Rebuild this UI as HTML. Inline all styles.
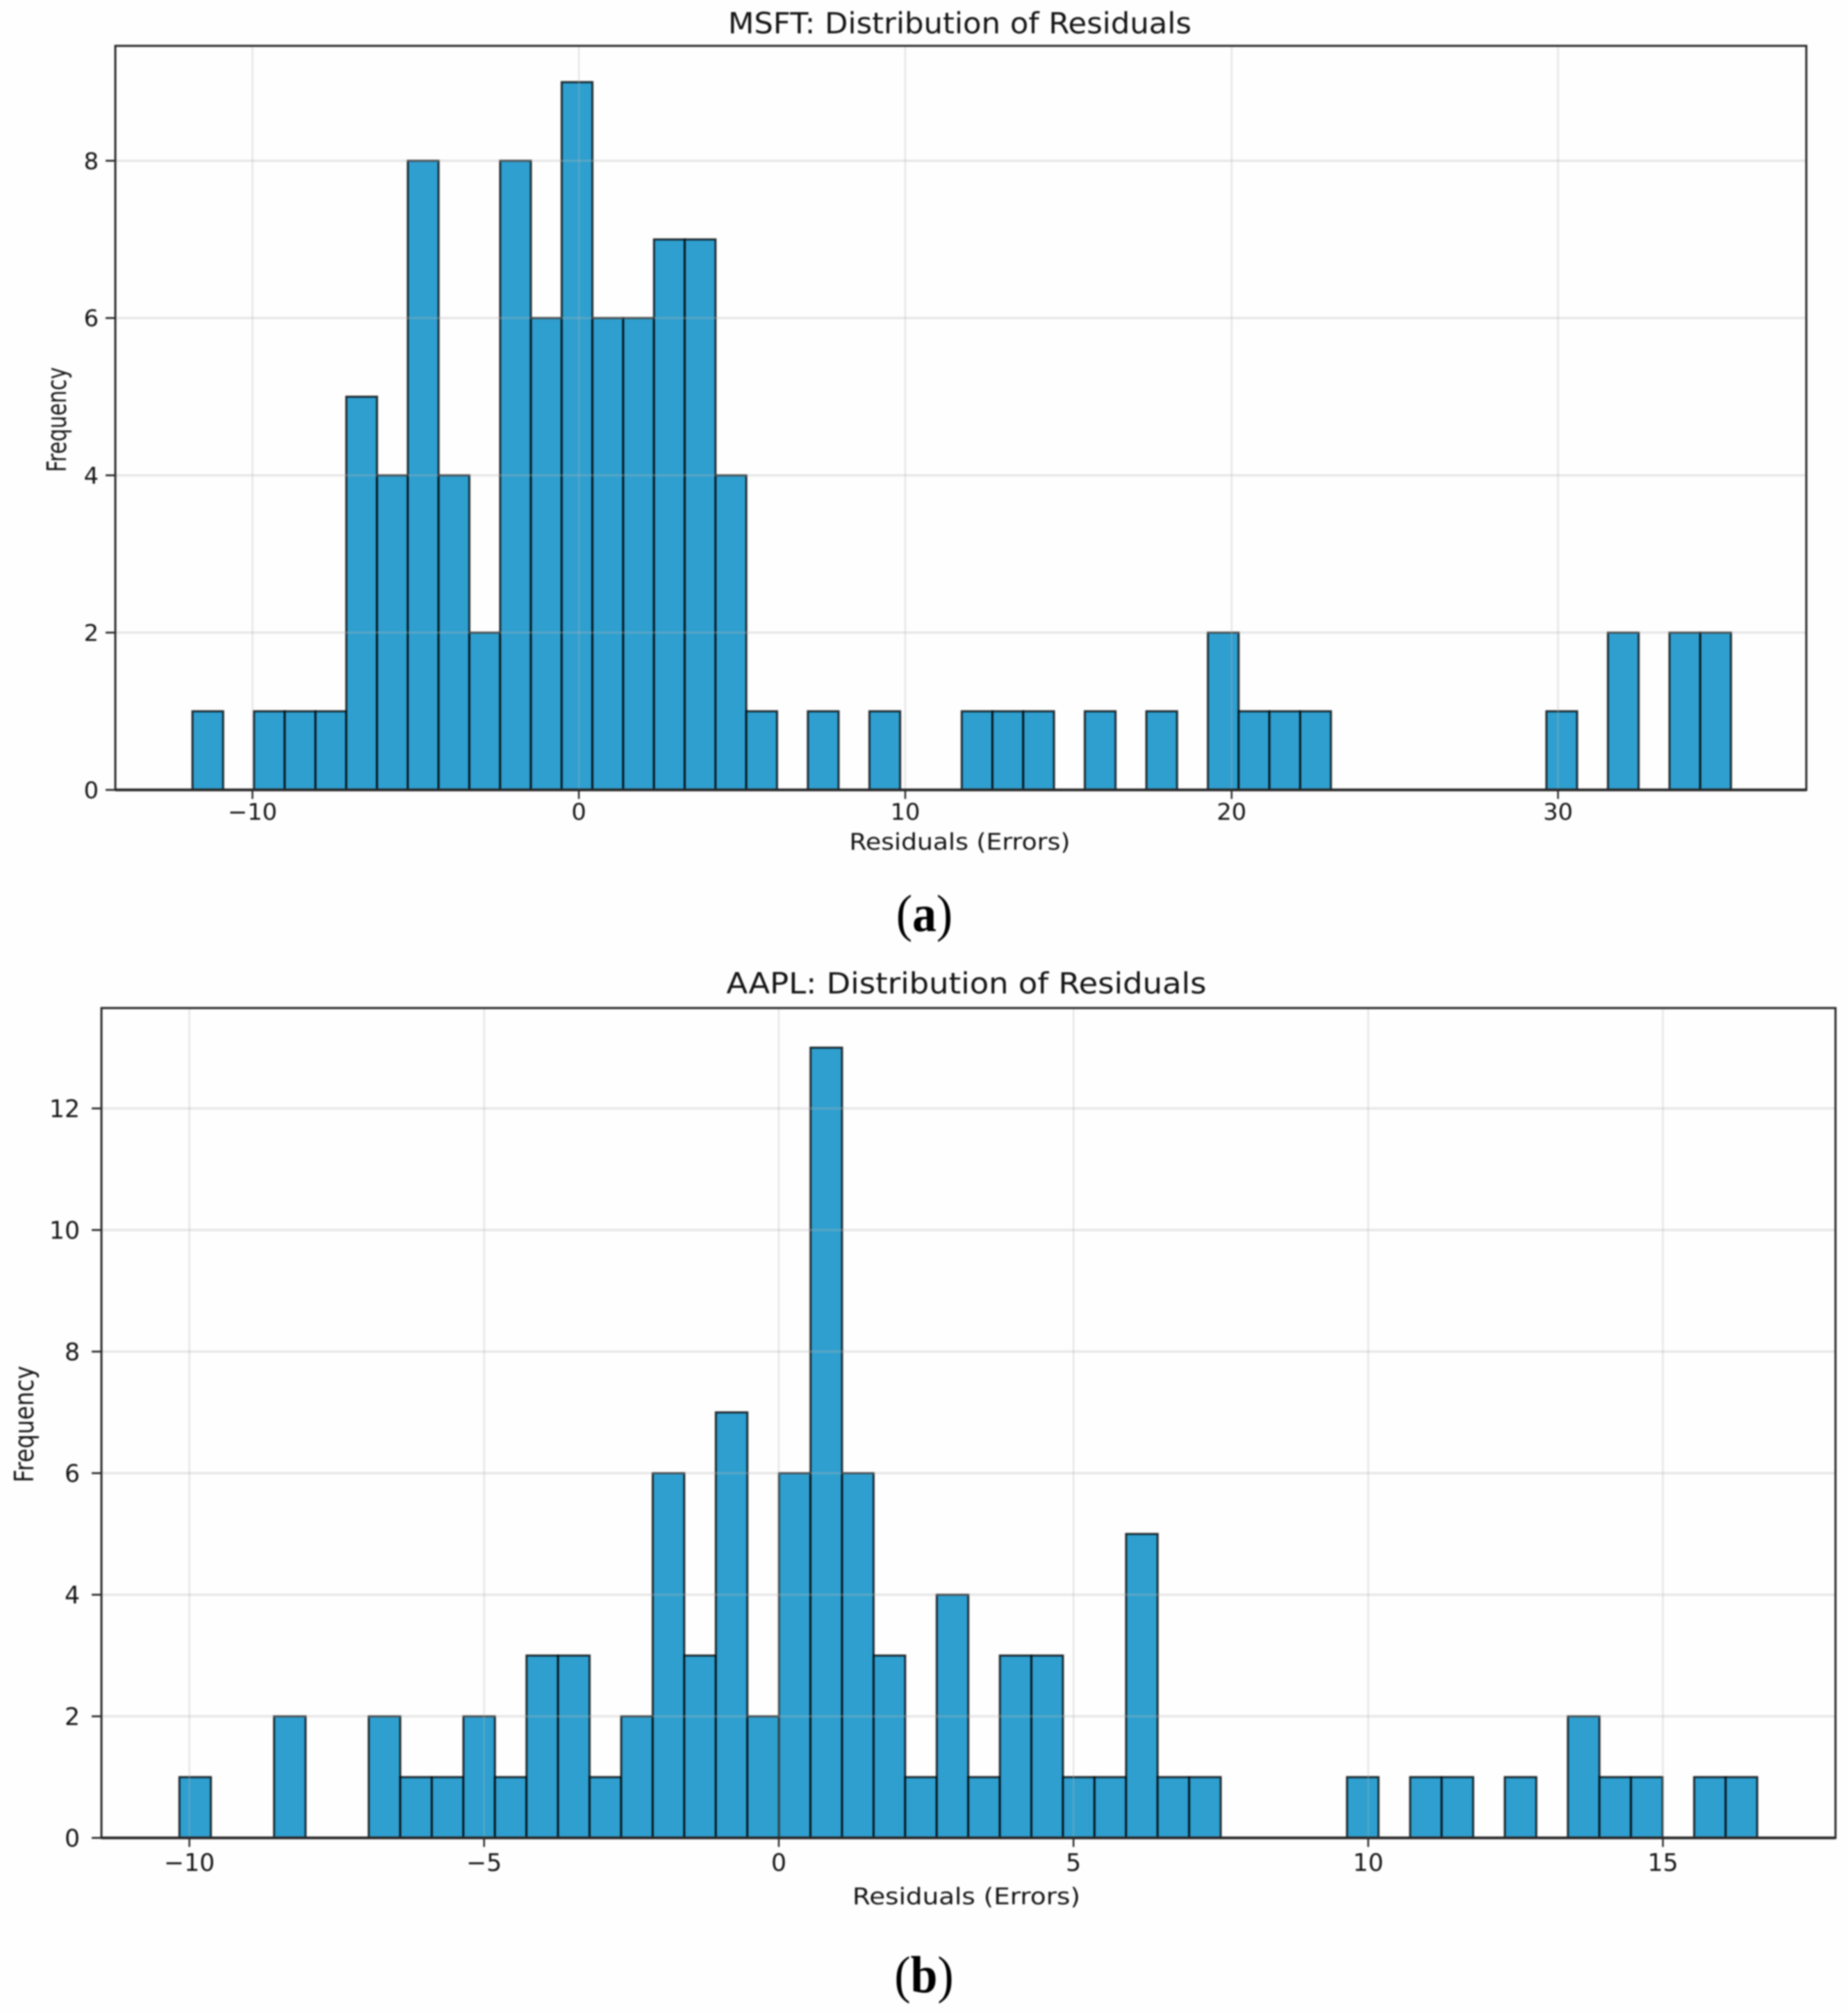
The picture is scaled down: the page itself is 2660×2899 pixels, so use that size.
<!DOCTYPE html>
<html lang="en">
<head>
<meta charset="utf-8">
<title>Distribution of Residuals</title>
<style>
  html, body { margin: 0; padding: 0; background: #fefefe; }
  body { width: 2660px; height: 2899px; overflow: hidden; }
  svg { display: block; filter: blur(1px); }
  text { font-family: "DejaVu Sans", "Liberation Sans", sans-serif; fill: #141414; }
  .caption { font-family: "Liberation Serif", serif; fill: #000; font-size: 75px; }
</style>
</head>
<body>
<svg id="figure" xmlns="http://www.w3.org/2000/svg" width="2660" height="2899" viewBox="0 0 2660 2899">
  <rect x="0" y="0" width="2660" height="2899" fill="#fefefe"/>
  <g id="chart-a"></g>
  <text class="caption" text-anchor="middle" transform="translate(1330.5,1340) scale(0.93,1)">(<tspan font-weight="bold">a</tspan>)</text>
  <g id="chart-b"></g>
  <text class="caption" text-anchor="middle" transform="translate(1330,2868) scale(0.93,1)">(<tspan font-weight="bold">b</tspan>)</text>
</svg>
<script>
const msftCounts = [1,0,1,1,1,5,4,8,4,2,8,6,9,6,6,7,7,4,1,0,1,0,1,0,0,1,1,1,0,1,0,1,0,2,1,1,1,0,0,0,0,0,0,0,1,0,2,0,2,2];
const msftRange = [-11.84, 35.3];
const msftXTicks = [-10, 0, 10, 20, 30];
const msftYTicks = [0, 2, 4, 6, 8];
const msftTitle = 'MSFT: Distribution of Residuals';

const aaplCounts = [1,0,0,2,0,0,2,1,1,2,1,3,3,1,2,6,3,7,2,6,13,6,3,1,4,1,3,3,1,1,5,1,1,0,0,0,0,1,0,1,1,0,1,0,2,1,1,0,1,1];
const aaplRange = [-10.17, 16.6];
const aaplXTicks = [-10, -5, 0, 5, 10, 15];
const aaplYTicks = [0, 2, 4, 6, 8, 10, 12];
const aaplTitle = 'AAPL: Distribution of Residuals';

const xAxisLabel = 'Residuals (Errors)';
const yAxisLabel = 'Frequency';

const SVG_NS = 'http://www.w3.org/2000/svg';

function make(parent, tag, attrs, content) {
  const el = document.createElementNS(SVG_NS, tag);
  for (const key in attrs) el.setAttribute(key, attrs[key]);
  if (content !== undefined) el.textContent = content;
  parent.appendChild(el);
  return el;
}

function tickText(v) {
  return String(v).replace('-', '\u2212');
}

function drawChart(root, prefix, counts, range, xTicks, yTicks, title, box) {
  const xScale = v => box.x0 + (v - box.xRef) * box.xUnit;
  const yScale = v => box.yBase - v * box.yUnit;
  const binWidth = (range[1] - range[0]) / counts.length;

  const barGroup = make(root, 'g', {});
  
  
  counts.forEach((count, i) => {
    if (count === 0) return;
    const left = xScale(range[0] + i * binWidth);
    const right = xScale(range[0] + (i + 1) * binWidth);
    const bar = make(barGroup, 'rect', {
      x: left, y: yScale(count), width: right - left, height: yScale(0) - yScale(count),
      fill: '#2e9fcf', stroke: '#000', 'stroke-opacity': 0.78, 'stroke-width': 3
    });
    
    
  });

  xTicks.forEach(v => {
    const px = xScale(v);
    const grid = make(root, 'line', {
      x1: px, x2: px, y1: box.top, y2: box.bottom,
      stroke: '#b4b4b4', 'stroke-opacity': 0.3, 'stroke-width': 2.6
    });
    
    
    const tick = make(root, 'line', {
      x1: px, x2: px, y1: box.bottom, y2: box.bottom + 13,
      stroke: '#222', 'stroke-width': 2.4
    });
    
    
    const label = make(root, 'text', {
      'text-anchor': 'middle', 'font-size': box.tickFont,
      transform: 'translate(' + px + ',' + box.xTickBase + ') scale(' + box.tickStretch + ',1)'
    }, tickText(v));
    
    
  });

  yTicks.forEach(v => {
    const py = yScale(v);
    const grid = make(root, 'line', {
      x1: box.left, x2: box.right, y1: py, y2: py,
      stroke: '#b4b4b4', 'stroke-opacity': 0.3, 'stroke-width': 3.4
    });
    
    
    const tick = make(root, 'line', {
      x1: box.left - 14, x2: box.left, y1: py, y2: py,
      stroke: '#222', 'stroke-width': 2.6
    });
    
    
    const label = make(root, 'text', {
      'text-anchor': 'end', 'font-size': box.tickFont,
      transform: 'translate(' + box.yTickRight + ',' + (py + box.tickFont * 0.36) + ') scale(' + box.tickStretch + ',1)'
    }, tickText(v));
    
    
  });

  const frame = make(root, 'rect', {
    x: box.left, y: box.top, width: box.right - box.left, height: box.bottom - box.top,
    fill: 'none', stroke: '#2a2a2a', 'stroke-width': 3
  });
  
  

  const baseline = make(root, 'line', {
    x1: box.left, x2: box.right, y1: box.bottom, y2: box.bottom,
    stroke: '#2a2a2a', 'stroke-width': 4
  });
  
  

  const titleEl = make(root, 'text', {
    x: box.titleX, y: box.titleBase, 'text-anchor': 'middle', 'font-size': 42,
    textLength: box.titleWidth, lengthAdjust: 'spacingAndGlyphs'
  }, title);
  
  

  const xLabel = make(root, 'text', {
    x: box.titleX, y: box.xLabelBase, 'text-anchor': 'middle', 'font-size': 33,
    textLength: box.xLabelWidth, lengthAdjust: 'spacingAndGlyphs'
  }, xAxisLabel);
  
  

  const yLabel = make(root, 'text', {
    'text-anchor': 'middle', 'font-size': 38,
    textLength: box.yLabelLength, lengthAdjust: 'spacingAndGlyphs',
    transform: 'translate(' + box.yLabelX + ',' + box.yLabelY + ') rotate(-90)'
  }, yAxisLabel);
  
  
}

drawChart(document.getElementById('chart-a'), 'msft', msftCounts, msftRange, msftXTicks, msftYTicks, msftTitle, {
  left: 166, right: 2600, top: 66, bottom: 1137,
  x0: 833.2, xRef: 0, xUnit: 46.98, yBase: 1137, yUnit: 113.2,
  tickFont: 33, tickStretch: 1.02, xTickBase: 1180, yTickRight: 142,
  titleX: 1381.5, titleBase: 48, titleWidth: 667,
  xLabelBase: 1223, xLabelWidth: 318,
  yLabelX: 95, yLabelY: 604, yLabelLength: 151
});

drawChart(document.getElementById('chart-b'), 'aapl', aaplCounts, aaplRange, aaplXTicks, aaplYTicks, aaplTitle, {
  left: 146, right: 2642, top: 1451, bottom: 2645.5,
  x0: 1121, xRef: 0, xUnit: 84.84, yBase: 2645.5, yUnit: 87.5,
  tickFont: 35, tickStretch: 0.99, xTickBase: 2693, yTickRight: 115,
  titleX: 1391, titleBase: 1430, titleWidth: 691,
  xLabelBase: 2741, xLabelWidth: 328,
  yLabelX: 48, yLabelY: 2050, yLabelLength: 168
});
</script>
</body>
</html>
